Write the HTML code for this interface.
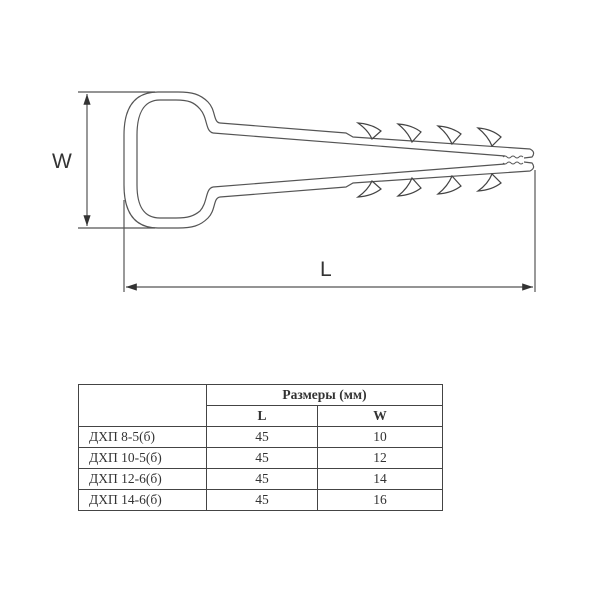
<!DOCTYPE html>
<html><head><meta charset="utf-8"><style>
body{margin:0;background:#fff;width:600px;height:600px;overflow:hidden;position:relative}
svg{position:absolute;left:0;top:0}
table{position:absolute;left:78px;top:384px;width:365px;border-collapse:collapse;font-family:"Liberation Serif","Noto Serif CJK SC",serif;font-size:13.5px;color:#333}
td{border:1px solid #444;padding:0;height:20px;line-height:20px;text-align:center}
td.n{text-align:left;padding-left:10px}
</style></head><body>
<svg width="600" height="600" viewBox="0 0 600 600" fill="none" stroke="#555" stroke-width="1.2">
<defs><marker id="a" markerWidth="10" markerHeight="8" refX="9" refY="4" orient="auto-start-reverse"><path d="M0,1 L9,4 L0,7 Z" fill="#333" stroke="none"/></marker></defs>
<line x1="78" y1="92" x2="155" y2="92"/><line x1="78" y1="228" x2="155" y2="228"/>
<line x1="87" y1="94" x2="87" y2="226" marker-start="url(#a)" marker-end="url(#a)"/>
<line x1="124" y1="200" x2="124" y2="292"/><line x1="535" y1="170" x2="535" y2="292"/>
<line x1="126" y1="287" x2="533" y2="287" marker-start="url(#a)" marker-end="url(#a)"/>
<path d="M220,123 L346,133 L353,137 L530,149 Q536,152 532,157 L524,158"/>
<path d="M220,197 L346,187 L353,183 L530,171 Q536,168 532,163 L524,162"/>
<path d="M220,123 C213,122 216,110 208,102 C200,94 192,92 178,92 L158,92 C134,92 124,108 124,135 L124,185 C124,212 134,228 158,228 L178,228 C192,228 200,226 208,218 C216,210 213,198 220,197"/>
<path d="M213,133 L505,156 M213,187 L505,164"/>
<path d="M213,133 C205,131 208,118 200,109 C194,102 188,100 176,100 L160,100 C143,100 137,115 137,135 L137,185 C137,205 143,218 160,218 L176,218 C188,218 194,216 200,211 C208,202 205,189 213,187"/>
<path d="M503,157 q2,-2 4,0 q2,2 4,0 q2,-2 4,0 q2,2 4,0 q2,-2 4,0 M503,163 q2,2 4,0 q2,-2 4,0 q2,2 4,0 q2,-2 4,0 q2,2 4,0" stroke-width="0.9"/>
<g stroke="#444">
<path d="M358,123 Q372,124 381,131 L372,139 Q368,130 358,123 Z"/>
<path d="M398,124 Q412,125 421,132 L412,142 Q408,132 398,124 Z"/>
<path d="M438,126 Q452,127 461,134 L452,144 Q448,134 438,126 Z"/>
<path d="M478,128 Q492,129 501,137 L492,146 Q488,136 478,128 Z"/>
<path d="M358,197 Q372,196 381,189 L372,181 Q368,190 358,197 Z"/>
<path d="M398,196 Q412,195 421,188 L412,178 Q408,188 398,196 Z"/>
<path d="M438,194 Q452,193 461,186 L452,176 Q448,186 438,194 Z"/>
<path d="M478,191 Q492,190 501,183 L492,174 Q488,184 478,191 Z"/>
</g>
<text x="52" y="168" font-family="Liberation Sans,sans-serif" font-size="21" fill="#333" stroke="none">W</text>
<text x="320" y="276" font-family="Liberation Sans,sans-serif" font-size="21" fill="#333" stroke="none">L</text>
</svg>
<table>
<tr><td rowspan="2" style="width:127px"></td><td colspan="2" style="font-weight:bold">Размеры (мм)</td></tr>
<tr><td style="font-weight:bold;width:110px">L</td><td style="font-weight:bold">W</td></tr>
<tr><td class="n">ДХП 8-5(б)</td><td>45</td><td>10</td></tr>
<tr><td class="n">ДХП 10-5(б)</td><td>45</td><td>12</td></tr>
<tr><td class="n">ДХП 12-6(б)</td><td>45</td><td>14</td></tr>
<tr><td class="n">ДХП 14-6(б)</td><td>45</td><td>16</td></tr>
</table>
</body></html>
